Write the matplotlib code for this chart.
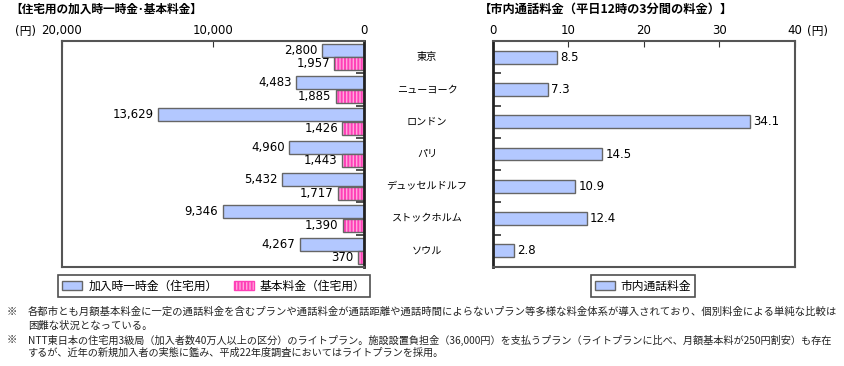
import numpy as np
import matplotlib
matplotlib.use('Agg')
import matplotlib.pyplot as plt
from matplotlib.patches import Patch
from matplotlib.transforms import blended_transform_factory

plt.rcParams['font.family'] = ['Noto Sans CJK JP', 'DejaVu Sans']
plt.rcParams['hatch.linewidth'] = 1.4

cities = ['東京', 'ニューヨーク', 'ロンドン', 'パリ', 'デュッセルドルフ', 'ストックホルム', 'ソウル']
joining_fee = [2800, 4483, 13629, 4960, 5432, 9346, 4267]
basic_fee = [1957, 1885, 1426, 1443, 1717, 1390, 370]
local_call = [8.5, 7.3, 34.1, 14.5, 10.9, 12.4, 2.8]

title_left = '【住宅用の加入時一時金･基本料金】'
title_right = '【市内通話料金（平日12時の3分間の料金）】'
legend_left = ['加入時一時金（住宅用）', '基本料金（住宅用）']
legend_right = ['市内通話料金']
notes = [
    '各都市とも月額基本料金に一定の通話料金を含むプランや通話料金が通話距離や通話時間によらないプラン等多様な料金体系が導入されており、個別料金による単純な比較は',
    '困難な状況となっている。',
    'NTT東日本の住宅用3級局（加入者数40万人以上の区分）のライトプラン。施設設置負担金（36,000円）を支払うプラン（ライトプランに比べ、月額基本料が250円割安）も存在',
    'するが、近年の新規加入者の実態に鑑み、平成22年度調査においてはライトプランを採用。',
]
note_sizes = [7.45, 7.45, 7.3, 7.3]

blue = '#b3c8ff'
pink_face = '#ffa8dc'
pink_hatch = '#ff40b8'
edge = '#666666'
numfont = ['DejaVu Sans', 'Noto Sans CJK JP']

W, H = 844, 366
fig = plt.figure(figsize=(W / 100, H / 100), dpi=100)

def px(x0, y0, x1, y1):
    return [x0 / W, 1 - y1 / H, (x1 - x0) / W, (y1 - y0) / H]

y = np.arange(len(cities))
bh = 0.40

# ---- left chart
ax1 = fig.add_axes(px(62, 41, 364, 267))
ax1.barh(y - 0.21, joining_fee, height=bh, color=blue, edgecolor=edge, linewidth=1)
ax1.barh(y + 0.21, basic_fee, height=bh, color=pink_face, edgecolor=pink_hatch,
         hatch='|||||', linewidth=0)
ax1.barh(y + 0.21, basic_fee, height=bh, fill=False, edgecolor=edge, linewidth=1)
for i in range(len(cities)):
    ax1.text(joining_fee[i] + 300, y[i] - 0.21, f'{joining_fee[i]:,}', ha='right', va='center',
             fontsize=8.5, family=numfont)
    ax1.text(basic_fee[i] + 300, y[i] + 0.21, f'{basic_fee[i]:,}', ha='right', va='center',
             fontsize=8.5, family=numfont)
ax1.set_xlim(20000, 0)
ax1.set_ylim(len(cities) - 0.5, -0.5)
ax1.xaxis.tick_top()
ax1.set_xticks([20000, 10000, 0])
ax1.set_xticklabels(['20,000', '10,000', '0'], fontsize=8.5, family=numfont)
ax1.tick_params(axis='x', direction='in', length=4, pad=3, color='#333333')
ax1.yaxis.tick_right()
ax1.set_yticks([])
ax1.set_yticks(np.arange(0.5, len(cities) - 0.5, 1), minor=True)
ax1.tick_params(axis='y', which='minor', direction='in', length=6, width=1.2, color='#333333')
for s in ['top', 'left', 'bottom']:
    ax1.spines[s].set_color('#555555')
    ax1.spines[s].set_linewidth(1.5)
ax1.spines['right'].set_color('#222222')
ax1.spines['right'].set_linewidth(2)
fig.text(15 / W, 1 - 31 / H, '(円)', fontsize=8.5, va='center', ha='left', family=numfont)

# ---- right chart
ax2 = fig.add_axes(px(493, 41, 795, 267))
ax2.barh(y, local_call, height=bh, color=blue, edgecolor=edge, linewidth=1)
for i in range(len(cities)):
    ax2.text(local_call[i] + 0.4, y[i], f'{local_call[i]}', ha='left', va='center',
             fontsize=8.5, family=numfont)
ax2.set_xlim(0, 40)
ax2.set_ylim(len(cities) - 0.5, -0.5)
ax2.xaxis.tick_top()
ax2.set_xticks([0, 10, 20, 30, 40])
ax2.set_xticklabels(['0', '10', '20', '30', '40'], fontsize=8.5, family=numfont)
ax2.tick_params(axis='x', direction='in', length=4, pad=3, color='#333333')
ax2.set_yticks([])
ax2.set_yticks(np.arange(0.5, len(cities) - 0.5, 1), minor=True)
ax2.tick_params(axis='y', which='minor', direction='in', length=6, width=1.2, color='#333333')
for s in ['top', 'right', 'bottom']:
    ax2.spines[s].set_color('#555555')
    ax2.spines[s].set_linewidth(1.5)
ax2.spines['left'].set_color('#222222')
ax2.spines['left'].set_linewidth(2)
fig.text(807 / W, 1 - 31 / H, '(円)', fontsize=8.5, va='center', ha='left', family=numfont)

# city names between the charts
tr = blended_transform_factory(fig.transFigure, ax2.transData)
for i, c in enumerate(cities):
    ax2.text(427 / W, y[i], c, transform=tr, ha='center', va='center', fontsize=7.3)

# titles
fig.text(10 / W, 1 - 9 / H, title_left, fontsize=8.4, fontweight='bold', va='center', ha='left')
fig.text(479 / W, 1 - 9 / H, title_right, fontsize=8.8, fontweight='bold', va='center', ha='left')

# legends
h1 = [Patch(facecolor=blue, edgecolor=edge),
      Patch(facecolor=pink_face, edgecolor=pink_hatch, hatch='|||||')]
lg1 = fig.legend(h1, legend_left, loc='center', bbox_to_anchor=(214 / W, 1 - 286 / H), ncol=2,
                 fontsize=8.5, frameon=True, fancybox=False, edgecolor='#222222',
                 handlelength=1.7, handleheight=0.8, handletextpad=0.5, columnspacing=1.4,
                 borderpad=0.35)
lg1.get_frame().set_linewidth(1.2)
h2 = [Patch(facecolor=blue, edgecolor=edge)]
lg2 = fig.legend(h2, legend_right, loc='center', bbox_to_anchor=(643 / W, 1 - 286 / H),
                 fontsize=8.5, frameon=True, fancybox=False, edgecolor='#222222',
                 handlelength=1.7, handleheight=0.8, handletextpad=0.5, borderpad=0.35)
lg2.get_frame().set_linewidth(1.2)

# footnotes
ys = [312, 326, 340, 353]
for k, (t, yy, fs) in enumerate(zip(notes, ys, note_sizes)):
    if k in (0, 2):
        fig.text(7 / W, 1 - yy / H, '※', fontsize=7.4, va='center', ha='left', color='#222222')
    fig.text(28 / W, 1 - yy / H, t, fontsize=fs, va='center', ha='left', color='#222222')

fig.savefig('out.png', dpi=100)
